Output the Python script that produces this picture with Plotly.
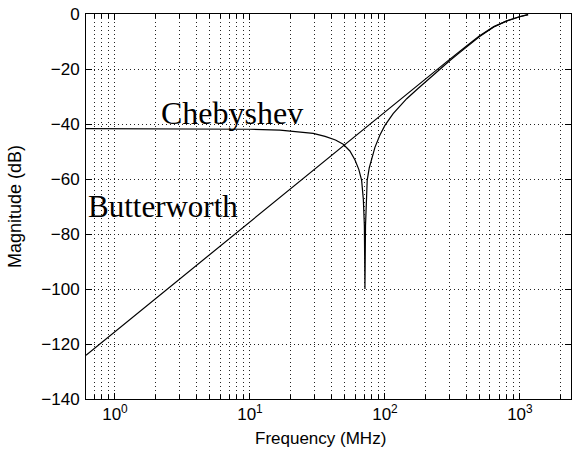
import plotly.graph_objects as go

# Frequency response of two high-pass filters (magnitude in dB vs frequency in MHz)
freq_bw = [0.61, 1, 2, 5, 10, 20, 50, 100, 200, 300, 400, 500, 640, 800, 1000, 1150]
mag_bw = [-124.1, -115.5, -103.5, -87.6, -75.5, -63.5, -47.6, -35.6, -23.6, -16.6,
          -11.7, -8.0, -4.6, -2.5, -1.0, -0.2]

freq_ch = [0.61, 5, 10, 16.7, 22, 29.4, 36, 43, 49.1, 55, 60, 64, 67.2, 69.2, 70.4,
           71.1, 71.8, 72.6, 73.9, 76.5, 79.7, 84.3, 91.8, 100, 115, 130, 145,
           175, 210, 255, 300, 350, 400, 500, 640, 800, 1000, 1150]
mag_ch = [-41.7, -41.75, -41.9, -42.2, -42.7, -43.4, -44.5, -45.8, -47.4, -49.8, -53.1,
          -56.5, -60.5, -67.5, -77.0, -100.0, -77.0, -67.5, -60.4, -56.0, -52.5, -48.5,
          -44.0, -40.5, -36.2, -33.2, -30.8, -27.2, -23.7, -20.1, -17.1, -14.4,
          -12.1, -8.3, -4.7, -2.5, -0.9, -0.2]

x_tickvals = [1, 10, 100, 1000]
x_ticktext = ["10<sup>0</sup>", "10<sup>1</sup>", "10<sup>2</sup>", "10<sup>3</sup>"]
x_minorvals = [m * 10 ** k for k in range(-1, 4) for m in range(2, 10)
               if 0.61 <= m * 10 ** k <= 2390]
y_tickvals = [0, -20, -40, -60, -80, -100, -120, -140]

labels = ["Chebyshev", "Butterworth"]

fig = go.Figure()
fig.add_trace(go.Scatter(x=freq_bw, y=mag_bw, mode="lines",
                         line=dict(color="black", width=1.2), showlegend=False))
fig.add_trace(go.Scatter(x=freq_ch, y=mag_ch, mode="lines",
                         line=dict(color="black", width=1.2), showlegend=False))

grid = dict(gridcolor="#222", gridwidth=1, griddash="1px,3px")
sans = "Liberation Sans, Arial, sans-serif"
tickfont = dict(family=sans, size=17, color="black")

fig.update_xaxes(
    type="log", range=[-0.2147, 3.3784],
    tickmode="array", tickvals=x_tickvals, ticktext=x_ticktext,
    ticks="inside", ticklen=6, tickcolor="black",
    showline=True, linecolor="black", linewidth=1, mirror="allticks",
    showgrid=True, **grid, zeroline=False,
    minor=dict(tickmode="array", tickvals=x_minorvals, ticks="inside", ticklen=4,
               tickcolor="black", showgrid=True, gridcolor="#222", gridwidth=1,
               griddash="1px,3px"),
    tickfont=tickfont,
)
fig.update_yaxes(
    range=[-140, 0], tickvals=y_tickvals,
    ticks="inside", ticklen=6, tickcolor="black",
    showline=True, linecolor="black", linewidth=1, mirror="allticks",
    showgrid=True, **grid, zeroline=False,
    tickfont=tickfont, ticklabelstandoff=2,
    title=dict(text="Magnitude (dB)", standoff=15,
               font=dict(family=sans, size=18, color="black")),
)

# x-axis title, centred under the ticks as in the original layout
fig.add_annotation(x=0.4845, y=0, xref="paper", yref="paper", yshift=-28,
                   text="Frequency (MHz)", showarrow=False, xanchor="center",
                   yanchor="top", font=dict(family=sans, size=17, color="black"))

serif = dict(family="Liberation Serif, Times New Roman, serif", size=32, color="black")
fig.add_annotation(x=0.325, y=-36.0, xref="x", yref="y", text=labels[0], showarrow=False,
                   xanchor="left", yanchor="middle", font=serif)
fig.add_annotation(x=-0.212, y=-70.0, xref="x", yref="y", text=labels[1], showarrow=False,
                   xanchor="left", yanchor="middle",
                   font=dict(family="Liberation Serif, Times New Roman, serif", size=31,
                             color="black"))

fig.update_layout(
    width=572, height=454,
    margin=dict(l=86, r=1, t=14, b=55, autoexpand=False),
    paper_bgcolor="white", plot_bgcolor="white",
)

fig.write_html("out.html")
